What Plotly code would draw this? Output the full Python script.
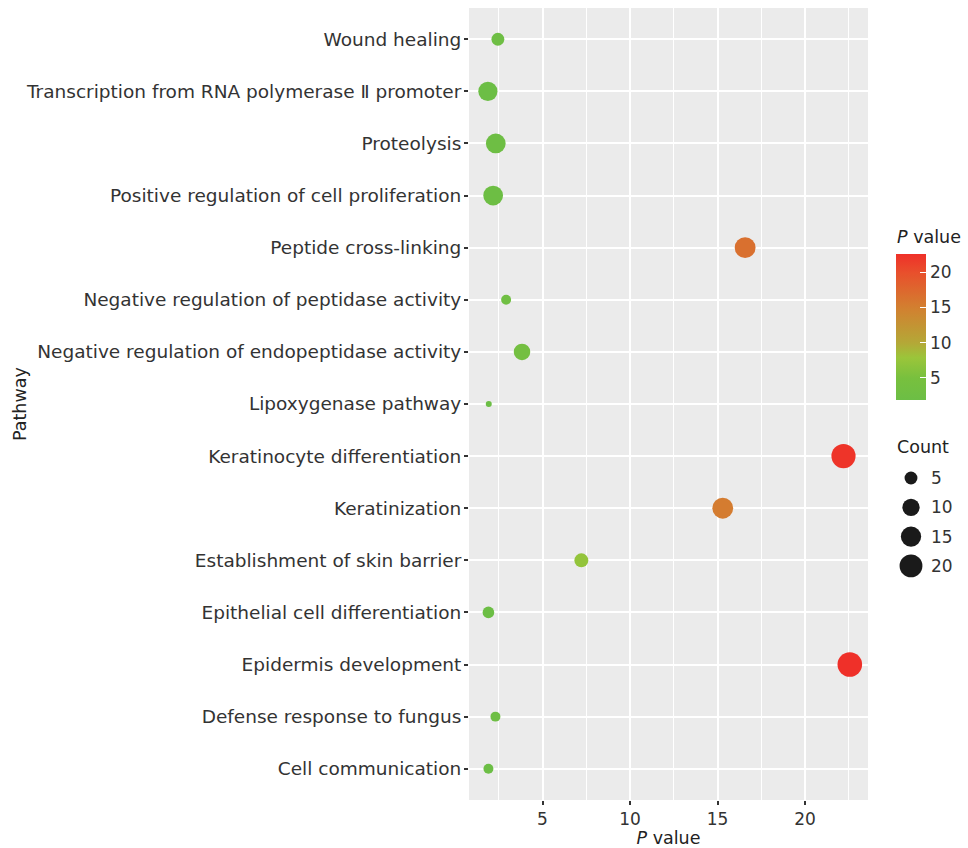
import plotly.graph_objects as go
import math

# ---------------- data ----------------
pathways = [
    "Wound healing",
    "Transcription from RNA polymerase Ⅱ promoter",
    "Proteolysis",
    "Positive regulation of cell proliferation",
    "Peptide cross-linking",
    "Negative regulation of peptidase activity",
    "Negative regulation of endopeptidase activity",
    "Lipoxygenase pathway",
    "Keratinocyte differentiation",
    "Keratinization",
    "Establishment of skin barrier",
    "Epithelial cell differentiation",
    "Epidermis development",
    "Defense response to fungus",
    "Cell communication",
]
p_values = [2.45, 1.88, 2.33, 2.18, 16.58, 2.92, 3.83, 1.93, 22.2, 15.3, 7.22, 1.91, 22.56, 2.31, 1.91]
counts = [5, 13, 14, 14, 16, 3, 9, 2, 23, 16, 6, 4, 24, 3, 3]
legend_counts = [5, 10, 15, 20]
x_ticks = [5, 10, 15, 20]
cbar_ticks = [5, 10, 15, 20]

# ---------------- styling ----------------
FONT = "DejaVu Sans"
TXT = "#333333"
W, H = 968, 848
ML, MR, MT, MB = 469, 0, 8, 48
PLOT_W = 399
PAPER_W = W - ML - MR
PAPER_H = H - MT - MB
main_dom = PLOT_W / PAPER_W

DMIN, DMAX = 6.0, 24.6
CMIN, CMAX = min(counts), max(counts)


def diam(c):
    return DMIN + (DMAX - DMIN) * math.sqrt((c - CMIN) / (CMAX - CMIN))


colorscale = [
    [0.0, "rgb(108,190,69)"],
    [0.15, "rgb(120,192,62)"],
    [0.29, "rgb(155,197,58)"],
    [0.39, "rgb(180,168,55)"],
    [0.63, "rgb(210,128,48)"],
    [0.87, "rgb(232,80,44)"],
    [1.0, "rgb(239,48,41)"],
]

fig = go.Figure()

fig.add_trace(go.Scatter(
    x=p_values, y=pathways, mode="markers",
    marker=dict(
        size=[diam(c) for c in counts], sizemode="diameter",
        color=p_values, colorscale=colorscale,
        cmin=min(p_values), cmax=max(p_values),
        line=dict(width=0), opacity=1,
        colorbar=dict(
            x=(896 - ML) / PAPER_W, xanchor="left", xpad=0,
            y=(H - MB - 327) / PAPER_H, yanchor="middle", ypad=0,
            len=146, lenmode="pixels", thickness=30, outlinewidth=0,
            tickvals=cbar_ticks, ticks="inside", ticklen=6, tickcolor="white",
            tickwidth=1,
            tickfont=dict(family=FONT, size=17, color=TXT),
        ),
    ),
    showlegend=False, hoverinfo="x+y",
))

# size legend (drawn on an auxiliary pixel-aligned axis)
leg_x_dom0 = 0.82
leg_x0 = ML + leg_x_dom0 * PAPER_W
leg_cx = 911
leg_y0, leg_dy = 478, 29.3
leg_ys = [leg_y0 + i * leg_dy for i in range(len(legend_counts))]
fig.add_trace(go.Scatter(
    x=[leg_cx] * len(legend_counts), y=leg_ys, mode="markers",
    marker=dict(size=[diam(c) for c in legend_counts], color="#1a1a1a",
                line=dict(width=0), opacity=1),
    xaxis="x2", yaxis="y2", showlegend=False, hoverinfo="skip",
))

annotations = [
    dict(text="<i>P</i> value", x=895, y=237, xref="x2", yref="y2", xanchor="left",
         yanchor="middle", showarrow=False, font=dict(family=FONT, size=17.5, color="#222")),
    dict(text="Count", x=895, y=447, xref="x2", yref="y2", xanchor="left", yanchor="middle",
         showarrow=False, font=dict(family=FONT, size=17.5, color="#222")),
    dict(text="Pathway", x=(20 - ML) / PAPER_W, y=0.5, xref="paper", yref="paper",
         textangle=-90, xanchor="center", yanchor="middle", showarrow=False,
         font=dict(family=FONT, size=17.5, color="#222")),
]
for c, yy in zip(legend_counts, leg_ys):
    annotations.append(dict(text=str(c), x=929, y=yy, xref="x2", yref="y2",
                            xanchor="left", yanchor="middle", showarrow=False,
                            font=dict(family=FONT, size=17, color=TXT)))

fig.update_layout(
    width=W, height=H,
    margin=dict(l=ML, r=MR, t=MT, b=MB, pad=0),
    paper_bgcolor="white", plot_bgcolor="white",
    font=dict(family=FONT, color=TXT),
    shapes=[dict(type="rect", xref="x domain", yref="y domain", x0=0, x1=1, y0=0, y1=1,
                 fillcolor="#EBEBEB", line=dict(width=0), layer="below")],
    xaxis=dict(
        domain=[0, main_dom], range=[0.8, 23.6],
        tickvals=x_ticks, ticks="outside", ticklen=4, tickwidth=1.5, tickcolor="#333",
        showgrid=True, gridcolor="white", gridwidth=1.8,
        minor=dict(dtick=2.5, tick0=0, showgrid=True, gridcolor="white", gridwidth=0.9, ticks=""),
        zeroline=False, showline=False,
        tickfont=dict(family=FONT, size=17, color=TXT),
        title=dict(text="<i>P</i> value", font=dict(family=FONT, size=17.5, color="#222"), standoff=2),
        automargin=False,
    ),
    yaxis=dict(
        type="category", categoryorder="array", categoryarray=pathways,
        autorange=False, range=[len(pathways) - 0.4, -0.6],
        ticks="outside", ticklen=4, tickwidth=1.5, tickcolor="#333",
        ticklabelstandoff=-1,
        showgrid=True, gridcolor="white", gridwidth=1.8,
        zeroline=False, showline=False,
        tickfont=dict(family=FONT, size=18.5, color=TXT),
        automargin=False,
    ),
    xaxis2=dict(domain=[leg_x_dom0, 1], range=[leg_x0, ML + PAPER_W], visible=False,
                fixedrange=True),
    yaxis2=dict(domain=[0, 1], range=[H - MB, MT], visible=False, anchor="x2",
                fixedrange=True),
    annotations=annotations,
)

fig.write_html("out.html", config={"displayModeBar": False},
               post_script="document.body.style.margin='0';")
